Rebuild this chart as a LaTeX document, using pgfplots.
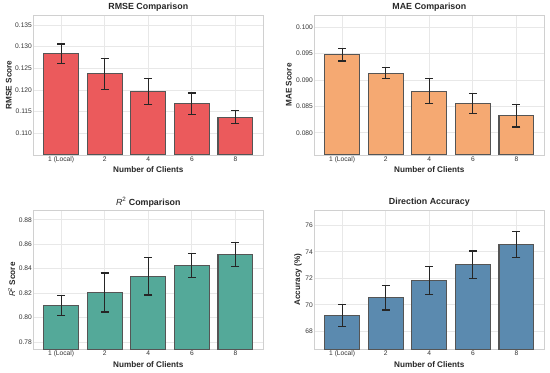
\documentclass[border=0pt]{standalone}
\usepackage{pgfplots}
\pgfplotsset{compat=1.18}
\usepackage{pgfplotstable}
\usepackage{fontspec}
\setmainfont{Liberation Sans}
\definecolor{rmsec}{HTML}{EB5A5C}
\definecolor{maec}{HTML}{F5A972}
\definecolor{r2c}{HTML}{54A999}
\definecolor{accc}{HTML}{5B8AAF}
\definecolor{edgec}{HTML}{555555}
\definecolor{gridc}{HTML}{E8E8E8}
\definecolor{framec}{HTML}{D0D0D0}
\definecolor{textc}{HTML}{262626}
\definecolor{tickc}{HTML}{333333}

\pgfplotstableread{
x y e
0 0.1284 0.0022
1 0.1237 0.0036
2 0.1196 0.0030
3 0.1168 0.0025
4 0.1137 0.0015
}\rmsedata
\pgfplotstableread{
x y e
0 0.0948 0.0012
1 0.0913 0.0010
2 0.0879 0.0024
3 0.0856 0.0019
4 0.0832 0.0021
}\maedata
\pgfplotstableread{
x y e
0 0.8098 0.0082
1 0.8205 0.0160
2 0.8337 0.0152
3 0.8425 0.0100
4 0.8516 0.0100
}\rtwodata
\pgfplotstableread{
x y e
0 69.21 0.82
1 70.53 0.92
2 71.82 1.05
3 73.03 1.03
4 74.55 0.97
}\accdata

\pgfplotsset{
  panel/.style={
    scale only axis, width=230bp, height=140bp, anchor=south west,
    xmin=-0.64, xmax=4.64, xtick={0,1,2,3,4}, xticklabels={1 (Local),2,4,6,8},
    major tick length=0pt,
    grid=major, grid style={draw=gridc, line width=0.8bp},
    axis line style={draw=framec, line width=0.8bp},
    tick label style={font=\fontsize{6.7}{8}\selectfont, text=tickc},
    /pgf/number format/assume math mode=true,
    scaled y ticks=false,
    xticklabel style={anchor=base, yshift=-6.3bp, inner sep=0pt},
    yticklabel style={anchor=east, inner sep=0pt, xshift=-1.2bp},
    every axis title/.style={font=\bfseries\fontsize{8.9}{10}\selectfont, text=textc, at={(0.5,1)}, anchor=base, yshift=5bp},
    xlabel style={font=\bfseries\fontsize{8.2}{10}\selectfont, text=textc, at={(0.5,0)}, anchor=base, yshift=-17.7bp},
    xlabel={Number of Clients},
  },
  ylab/.style={every axis y label/.style={at={(rel axis cs:0,0.5)}, xshift=-#1, rotate=90, anchor=base, font=\bfseries\fontsize{8.2}{10}\selectfont, text=textc}},
  barplot/.style={ybar, bar width=0.8, bar shift=0pt, fill=#1, draw=edgec, line width=1.1bp, mark=none,
    error bars/.cd, y dir=both, y explicit,
    error bar style={line width=1.2bp, draw=black!85},
    error mark options={rotate=90, mark size=4bp, line width=1.2bp, draw=black!85}},
}

\begin{document}
\begin{tikzpicture}[x=1bp,y=1bp]
\begin{axis}[panel, at={(33.3bp,217bp)}, ylab=21.6bp,
  ymin=0.105, ymax=0.1373, ytick={0.110,0.115,0.120,0.125,0.130,0.135},
  yticklabel style={/pgf/number format/.cd, fixed, fixed zerofill, precision=3},
  title={RMSE Comparison}, ylabel={RMSE Score}]
\addplot[barplot=rmsec] table[x=x, y=y, y error=e] {\rmsedata};
\end{axis}
\begin{axis}[panel, at={(314.3bp,217bp)}, ylab=22.6bp,
  ymin=0.0758, ymax=0.1023, ytick={0.080,0.085,0.090,0.095,0.100},
  yticklabel style={/pgf/number format/.cd, fixed, fixed zerofill, precision=3},
  title={MAE Comparison}, ylabel={MAE Score}]
\addplot[barplot=maec] table[x=x, y=y, y error=e] {\maedata};
\end{axis}
\begin{axis}[panel, height=139.3bp, at={(33.3bp,22.7bp)}, ylab=18.3bp,
  ymin=0.774, ymax=0.888, ytick={0.78,0.80,0.82,0.84,0.86,0.88},
  yticklabel style={/pgf/number format/.cd, fixed, fixed zerofill, precision=2},
  title={{\mdseries\itshape R}{\mdseries\textsuperscript{2}} Comparison},
  ylabel={{\mdseries\itshape R}{\mdseries\textsuperscript{2}} Score}]
\addplot[barplot=r2c] table[x=x, y=y, y error=e] {\rtwodata};
\end{axis}
\begin{axis}[panel, height=139.3bp, at={(314.3bp,22.7bp)}, ylab=14.1bp,
  ymin=66.64, ymax=77.16, ytick={68,70,72,74,76},
  title={Direction Accuracy}, ylabel={Accuracy (\%)}]
\addplot[barplot=accc] table[x=x, y=y, y error=e] {\accdata};
\end{axis}
\pgfresetboundingbox
\path (0,0) rectangle (550,372);
\end{tikzpicture}
\end{document}
